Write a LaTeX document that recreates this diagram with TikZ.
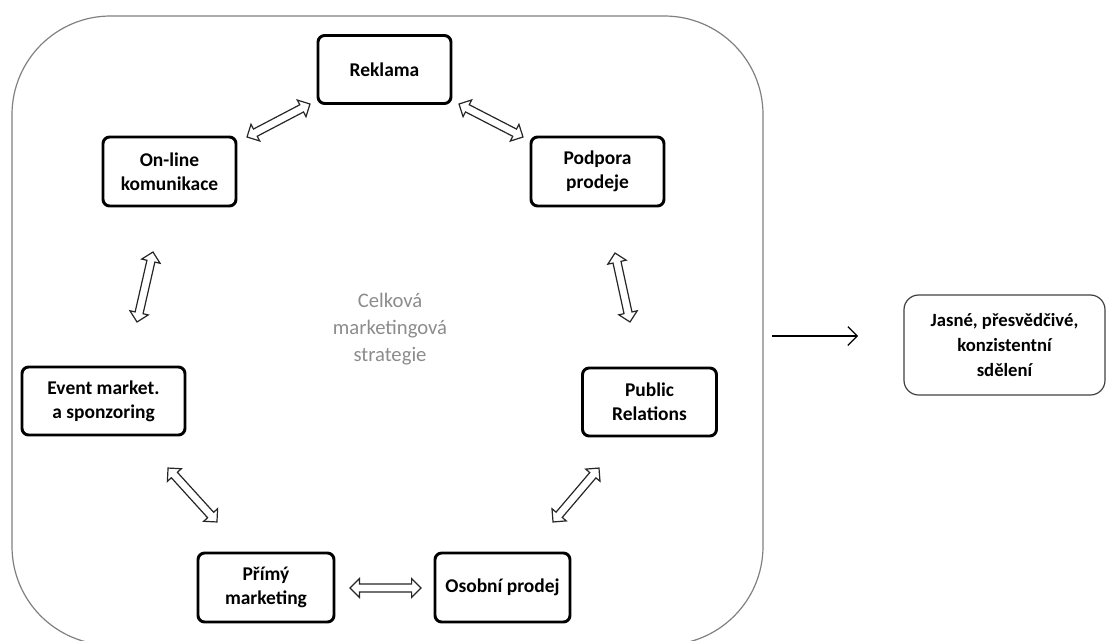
\documentclass[tikz,border=0pt]{standalone}
\usepackage{fontspec}
\setmainfont{Carlito}
\usetikzlibrary{shapes.arrows,calc,arrows.meta}
\tikzset{
  box/.style={draw=black, line width=2.2pt, rounded corners=5pt, align=center,
    font=\bfseries\fontsize{14.6}{18}\selectfont, inner sep=0pt},
  harrow/.style={double arrow, draw=black!85, line width=0.9pt, fill=white,
    minimum width=0pt, inner xsep=0pt, inner ysep=2.6pt, double arrow head extend=4pt,
    double arrow head indent=0pt, sloped},
  outer/.style={draw=black!50, line width=0.9pt, rounded corners=74pt},
}
\begin{document}
\begin{tikzpicture}[x=0.75pt,y=-0.75pt]
\useasboundingbox (0,0) rectangle (1107,640);
\begin{scope}
\clip (0,0) rectangle (1107,640);
\draw[outer] (12,16) rectangle (763,645);
\end{scope}
\node[box, minimum width=133*0.75pt, minimum height=68*0.75pt] (rek) at (384.5,69.5) {Reklama};
\node[box, minimum width=133*0.75pt, minimum height=69*0.75pt] (onl) at (169.5,171.5) {On-line\\komunikace};
\node[box, minimum width=133*0.75pt, minimum height=69*0.75pt] (pod) at (597.5,171.5) {Podpora\\prodeje};
\node[box, minimum width=163*0.75pt, minimum height=68*0.75pt] (evt) at (103.5,401) {Event market.\\a sponzoring};
\node[box, minimum width=134*0.75pt, minimum height=68*0.75pt] (pr) at (649.5,402) {Public\\Relations};
\node[box, minimum width=136*0.75pt, minimum height=69*0.75pt] (pri) at (266,587.5) {Přímý\\marketing};
\node[box, minimum width=135*0.75pt, minimum height=69*0.75pt] (oso) at (502.5,587.5) {Osobní prodej};
\node[align=center, text=black!45, font=\fontsize{15.5}{20}\selectfont] (cel) at (390,329) {Celková\\marketingová\\strategie};
\node[draw=black!75, line width=0.9pt, rounded corners=11pt, align=center,
  font=\bfseries\fontsize{14}{18.5}\selectfont, minimum width=201*0.75pt, minimum height=100*0.75pt]
  (jas) at (1004.5,345) {Jasné, přesvědčivé,\\konzistentní\\sdělení};
% arrow endpoints
\coordinate (a1s) at (247,137); \coordinate (a1e) at (310,104);
\coordinate (a2s) at (459,104); \coordinate (a2e) at (523,137);
\coordinate (a3s) at (153,252); \coordinate (a3e) at (137,322);
\coordinate (a4s) at (615,253); \coordinate (a4e) at (630,322);
\coordinate (a5s) at (168,468); \coordinate (a5e) at (217,522);
\coordinate (a6s) at (599,468); \coordinate (a6e) at (553,522);
\coordinate (a7s) at (350,588); \coordinate (a7e) at (421,588);
\foreach \i in {1,...,7}{
  \path let \p1=($(a\i e)-(a\i s)$), \n1={veclen(\x1,\y1)} in
    (a\i s) -- node[harrow, minimum height=\n1] {} (a\i e);
}
\coordinate (out) at (772,336);
\coordinate (tip) at (858,336);
\draw[line width=0.9pt, -{Straight Barb[length=7pt,width=14pt]}] (out) -- (tip);
\end{tikzpicture}
\end{document}
